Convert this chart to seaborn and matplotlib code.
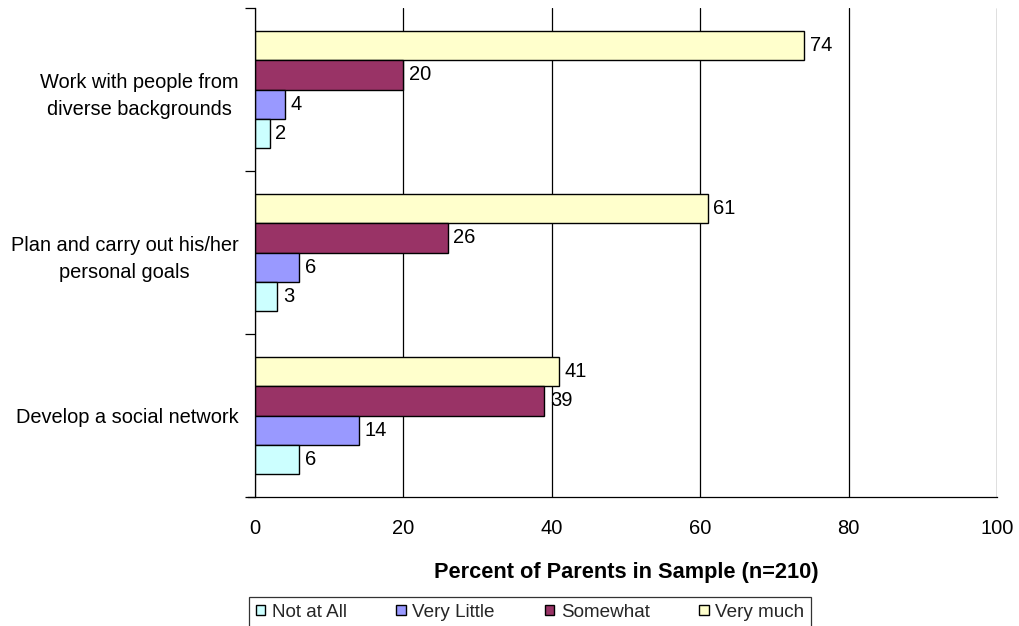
import matplotlib
matplotlib.use("Agg")
import matplotlib.pyplot as plt
import seaborn as sns
import pandas as pd
from matplotlib.ticker import FixedLocator

# Survey outcomes (percent of parents, n=210)
outcomes = [
    "Work with people from\ndiverse backgrounds",
    "Plan and carry out his/her\npersonal goals",
    "Develop a social network",
]
levels = ["Not at All", "Very Little", "Somewhat", "Very much"]
not_at_all = [2, 3, 6]
very_little = [4, 6, 14]
somewhat = [20, 26, 39]
very_much = [74, 61, 41]

colors = {
    "Not at All": "#CCFFFF",
    "Very Little": "#9999FF",
    "Somewhat": "#993366",
    "Very much": "#FFFFCC",
}

rows = []
for lvl, vals in zip(levels, [not_at_all, very_little, somewhat, very_much]):
    for o, v in zip(outcomes, vals):
        rows.append({"Outcome": o, "Response": lvl, "Percent": v})
df = pd.DataFrame(rows)

sns.set_theme(style="white")
plt.rcParams["font.family"] = ["Liberation Sans", "DejaVu Sans"]

fig = plt.figure(figsize=(10.19, 6.26), dpi=100)
ax = fig.add_axes([0.2502, 0.206, 0.7282, 0.7812])

# Draw top-to-bottom: Very much, Somewhat, Very Little, Not at All
draw_order = levels[::-1]
sns.barplot(
    data=df, y="Outcome", x="Percent", hue="Response",
    order=outcomes, hue_order=draw_order, palette=colors,
    orient="h", width=0.72, gap=0, edgecolor="black", linewidth=1.0,
    saturation=1, ax=ax, legend=True,
)

for cont in ax.containers:
    ax.bar_label(cont, fmt="%g", padding=4, fontsize=14.5, color="black")

ax.set_xlim(0, 100)
ax.set_ylim(2.5, -0.5)
ax.set_xticks([0, 20, 40, 60, 80, 100])
ax.tick_params(axis="x", labelsize=14.5, length=0, pad=16, colors="black")
ax.grid(axis="x", color="black", linewidth=0.9)
ax.set_axisbelow(True)

# Category labels at centres, tick marks at category boundaries
ax.tick_params(axis="y", which="major", length=0, labelsize=14.4, pad=12, colors="black")
ax.yaxis.set_minor_locator(FixedLocator([-0.5, 0.5, 1.5, 2.5]))
ax.tick_params(axis="y", which="minor", length=7, width=0.9, color="black", left=True)
for lbl in ax.get_yticklabels():
    lbl.set_multialignment("center")
    lbl.set_linespacing(1.55)

for s in ["top", "right"]:
    ax.spines[s].set_visible(False)
for s in ["left", "bottom"]:
    ax.spines[s].set_color("black")
    ax.spines[s].set_linewidth(0.9)
# x-axis ticks hanging below the axis at gridline positions
ax.tick_params(axis="x", which="major", length=0)
ax.xaxis.set_minor_locator(FixedLocator([0, 20, 40, 60, 80, 100]))
ax.tick_params(axis="x", which="minor", length=6, width=0.9, color="black", bottom=True)
ax.spines["bottom"].set_bounds(-0.9, 100)

ax.set_ylabel("")
ax.set_xlabel("Percent of Parents in Sample (n=210)", fontsize=15.7, fontweight="bold",
              labelpad=17, color="black")

handles, labels = ax.get_legend_handles_labels()
ax.get_legend().remove()
hmap = dict(zip(labels, handles))
leg = fig.legend(
    [hmap[l] for l in levels], levels,
    loc="upper left", bbox_to_anchor=(249 / 1019, 1 - 597 / 626), ncol=4,
    frameon=True, fancybox=False, edgecolor="black", fontsize=13.6,
    handlelength=0.5, handleheight=0.5, handletextpad=0.35, columnspacing=2.63,
    borderpad=0.35, borderaxespad=0,
)
leg.get_frame().set_linewidth(0.9)

fig.savefig("out.png", dpi=100)
